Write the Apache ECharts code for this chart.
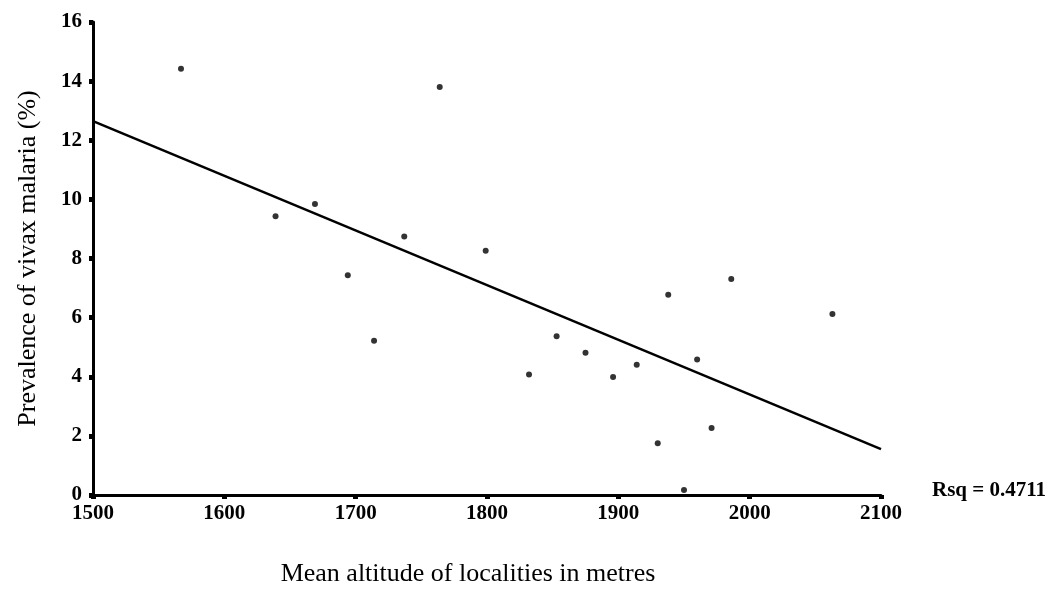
<!DOCTYPE html>
<html>
<head>
<meta charset="utf-8">
<script src="https://cdn.jsdelivr.net/npm/echarts@6/dist/echarts.min.js"></script>
<style>
  html, body { margin: 0; padding: 0; background: #fff; }
  #main { width: 1055px; height: 592px; }
</style>
</head>
<body>
<div id="main"></div>
<script>
// altitude (m) and prevalence (%) of each locality
var altitude = [1567, 1639, 1669, 1694, 1714, 1737, 1764, 1799, 1832, 1853,
                1875, 1896, 1914, 1930, 1938, 1950, 1960, 1971, 1986, 2063];
var prevalence = [14.42, 9.43, 9.84, 7.43, 5.22, 8.74, 13.80, 8.26, 4.08, 5.37,
                  4.81, 3.99, 4.41, 1.75, 6.77, 0.17, 4.58, 2.27, 7.31, 6.12];

// fitted line end points
var fitX = [1500, 2100];
var fitY = [12.65, 1.55];

var rsqText = 'Rsq = 0.4711';

var points = [];
for (var i = 0; i < altitude.length; i++) {
    points.push([altitude[i], prevalence[i]]);
}
var fitLine = [];
for (var j = 0; j < fitX.length; j++) {
    fitLine.push([fitX[j], fitY[j]]);
}

var serif = 'Liberation Serif';
var myChart = echarts.init(document.getElementById('main'));

var option = {
    backgroundColor: '#fff',
    animation: false,
    textStyle: { fontFamily: serif, color: '#000' },
    grid: { left: 93, right: 174, top: 22, bottom: 87, containLabel: false },
    xAxis: {
        type: 'value',
        min: 1500, max: 2100, interval: 100,
        name: 'Mean altitude of localities in metres',
        nameLocation: 'middle',
        nameGap: 66,
        nameTextStyle: { fontFamily: serif, fontSize: 26, color: '#000', padding: [0, 38, 0, 0] },
        axisLine: { lineStyle: { color: '#000', width: 3 } },
        axisTick: { length: 4, lineStyle: { color: '#000', width: 5 } },
        axisLabel: {
            fontFamily: serif, fontSize: 21, fontWeight: 'bold', color: '#000', margin: 8,
            formatter: function (v) { return String(v); }
        },
        splitLine: { show: false }
    },
    yAxis: {
        type: 'value',
        min: 0, max: 16, interval: 2,
        name: 'Prevalence of vivax malaria (%)',
        nameLocation: 'middle',
        nameGap: 52,
        nameTextStyle: { fontFamily: serif, fontSize: 26, color: '#000' },
        axisLine: { lineStyle: { color: '#000', width: 3 } },
        axisTick: { length: 4, lineStyle: { color: '#000', width: 5 } },
        axisLabel: { fontFamily: serif, fontSize: 21, fontWeight: 'bold', color: '#000', margin: 11 },
        splitLine: { show: false }
    },
    graphic: [{
        type: 'text',
        left: 932,
        top: 480,
        style: { text: rsqText, fontFamily: serif, fontSize: 21, fontWeight: 'bold', fill: '#000' }
    }],
    series: [{
        type: 'scatter',
        data: points,
        symbol: 'circle',
        symbolSize: 6,
        itemStyle: { color: '#000' }
    }, {
        type: 'line',
        data: fitLine,
        showSymbol: false,
        lineStyle: { color: '#000', width: 2.5 }
    }]
};

myChart.setOption(option);
</script>
</body>
</html>
